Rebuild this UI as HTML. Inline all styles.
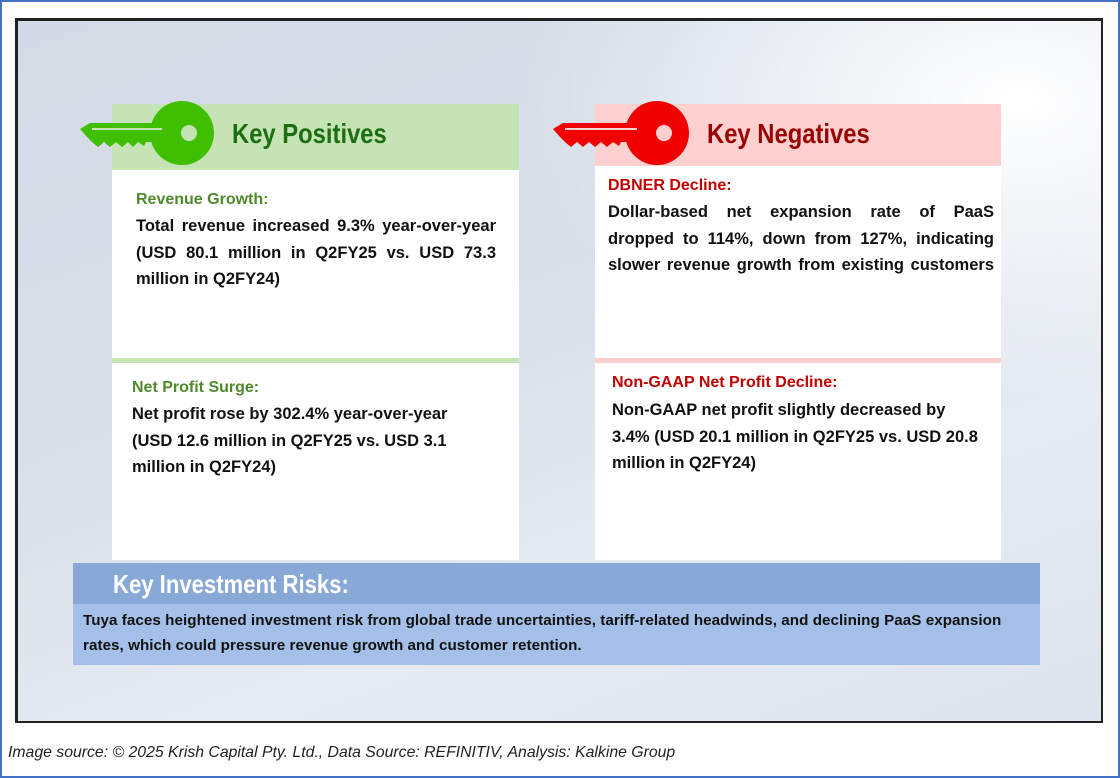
<!DOCTYPE html>
<html><head><meta charset="utf-8"><style>
*{margin:0;padding:0;box-sizing:border-box}
body{width:1120px;height:778px;position:relative;background:#fff;font-family:"Liberation Sans",sans-serif;overflow:hidden}
.abs{position:absolute}
.outer{left:0;top:0;width:1120px;height:778px;border:2px solid #4472c4}
.frame{left:15px;top:18px;width:1088px;height:705px;border:3px solid #222;border-right-width:2px;border-bottom-width:2px;
background:radial-gradient(ellipse 500px 300px at 1000px 80px,#fff 0%,rgba(255,255,255,0) 100%),linear-gradient(160deg,#d3dbe6 0%,#d8dfe9 40%,#e6ebf1 70%,#dfe5ee 100%)}
.hdr{font-weight:bold;font-size:28px;transform:scaleX(0.85);transform-origin:left center;white-space:nowrap}
.box{background:#fff}
.t{font-weight:bold;font-size:16.5px;line-height:26.5px;color:#111}
.t div{white-space:nowrap}
.t .j{text-align:justify;text-align-last:justify;white-space:normal}
.h{font-weight:bold;font-size:16px}
</style></head><body>
<div class="abs outer"></div>
<div class="abs frame"></div>

<div class="abs" style="left:112px;top:104px;width:407px;height:66px;background:#c5e3b5"></div>
<svg class="abs" style="left:78px;top:98px" width="140" height="72">
<circle cx="104" cy="35" r="32" fill="#3fbf00"/><circle cx="111" cy="35" r="8" fill="#c5e3b5"/>
<path d="M2 31 L12 25 L80 25 L80 44 L68 44 L66 48 L60 44 L55 49 L50 44 L44 49 L38 44 L32 49 L26 44 L20 49 L14 44 L10 40 Z" fill="#3fbf00"/>
<rect x="14" y="30" width="70" height="2" fill="#c5e3b5"/></svg>
<div class="abs hdr" style="left:232px;top:118px;color:#1d6e12">Key Positives</div>
<div class="abs box" style="left:112px;top:170px;width:407px;height:188px">
<div class="abs h" style="left:24px;top:21px;color:#4e8a2c">Revenue Growth:</div>
<div class="abs t" style="left:24px;top:43px;width:360px"><div class="j">Total revenue increased 9.3% year-over-year</div><div class="j">(USD 80.1 million in Q2FY25 vs. USD 73.3</div><div>million in Q2FY24)</div></div></div>
<div class="abs" style="left:112px;top:358px;width:407px;height:5px;background:#c5e3b5"></div>
<div class="abs box" style="left:112px;top:363px;width:407px;height:197px">
<div class="abs h" style="left:20px;top:16px;color:#4e8a2c">Net Profit Surge:</div>
<div class="abs t" style="left:20px;top:38px;width:360px"><div>Net profit rose by 302.4% year-over-year</div><div>(USD 12.6 million in Q2FY25 vs. USD 3.1</div><div>million in Q2FY24)</div></div></div>

<div class="abs" style="left:595px;top:104px;width:406px;height:62px;background:#ffd0d0"></div>
<svg class="abs" style="left:551px;top:98px" width="140" height="72">
<circle cx="106" cy="35" r="32" fill="#f00000"/><circle cx="113" cy="35" r="8" fill="#ffd0d0"/>
<path d="M2 31 L12 25 L82 25 L82 44 L70 44 L68 48 L62 44 L56 49 L50 44 L44 49 L38 44 L32 49 L26 44 L20 49 L14 44 L10 40 Z" fill="#f00000"/>
<rect x="14" y="30" width="72" height="2" fill="#ffd0d0"/></svg>
<div class="abs hdr" style="left:707px;top:118px;color:#9a0000">Key Negatives</div>
<div class="abs box" style="left:595px;top:166px;width:406px;height:192px">
<div class="abs h" style="left:13px;top:11px;color:#c00000">DBNER Decline:</div>
<div class="abs t" style="left:13px;top:33px;width:386px"><div class="j">Dollar-based net expansion rate of PaaS</div><div class="j">dropped to 114%, down from 127%, indicating</div><div class="j">slower revenue growth from existing customers</div></div></div>
<div class="abs" style="left:595px;top:358px;width:406px;height:5px;background:#ffd0d0"></div>
<div class="abs box" style="left:595px;top:363px;width:406px;height:197px">
<div class="abs h" style="left:17px;top:11px;color:#c00000">Non-GAAP Net Profit Decline:</div>
<div class="abs t" style="left:17px;top:34px;width:378px"><div>Non-GAAP net profit slightly decreased by</div><div>3.4% (USD 20.1 million in Q2FY25 vs. USD 20.8</div><div>million in Q2FY24)</div></div></div>

<div class="abs" style="left:73px;top:563px;width:967px;height:41px;background:#88a8d8">
<div class="abs hdr" style="left:40px;top:6px;font-size:26px;color:#fff">Key Investment Risks:</div></div>
<div class="abs" style="left:73px;top:604px;width:967px;height:61px;background:#a4c0e8">
<div class="abs" style="left:10px;top:4px;width:960px;font-weight:bold;font-size:15.2px;letter-spacing:0.05px;line-height:25px;color:#111;white-space:nowrap">Tuya faces heightened investment risk from global trade uncertainties, tariff-related headwinds, and declining PaaS expansion<br>rates, which could pressure revenue growth and customer retention.</div></div>

<div class="abs" style="left:8px;top:744px;font-style:italic;font-size:15.8px;color:#222;white-space:nowrap">Image source: © 2025 Krish Capital Pty. Ltd., Data Source: REFINITIV, Analysis: Kalkine Group</div>
</body></html>
